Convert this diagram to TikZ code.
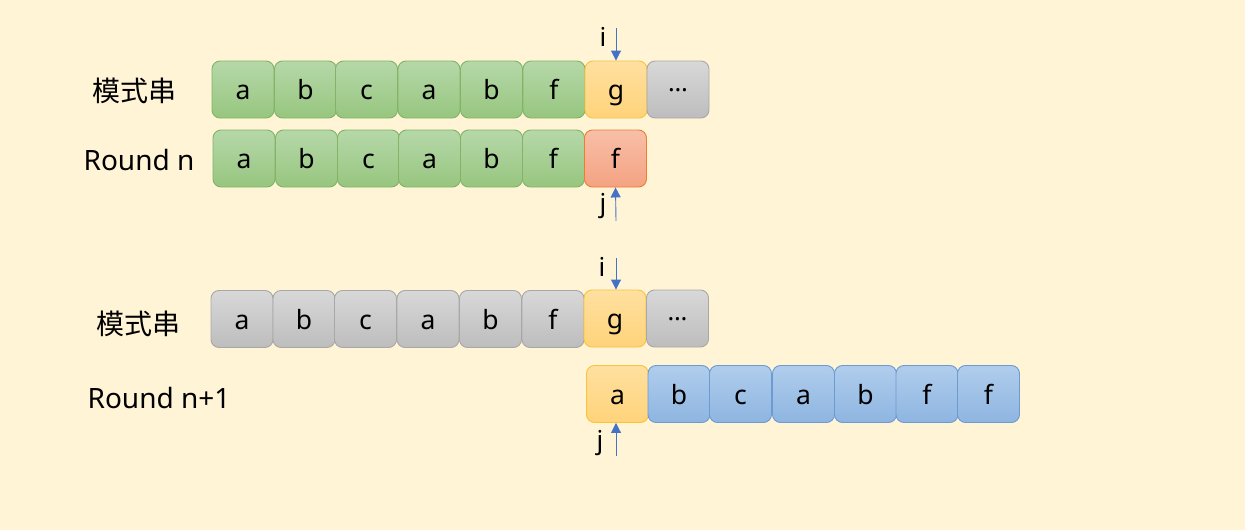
\documentclass[tikz,border=0pt]{standalone}
\usepackage{fontspec}
\setmainfont{Noto Sans}
\newfontfamily\cjk{Noto Sans CJK SC}
\usetikzlibrary{arrows.meta,shadings}
\definecolor{bg}{HTML}{FFF4D6}
\definecolor{arrowblue}{HTML}{4472C4}
\definecolor{gD}{HTML}{82B366}\definecolor{gT}{HTML}{B6D8A9}\definecolor{gB}{HTML}{97C67F}
\definecolor{yD}{HTML}{F9C33A}\definecolor{yT}{HTML}{FFE0A0}\definecolor{yB}{HTML}{FFD37A}
\definecolor{kD}{HTML}{A8A8A8}\definecolor{kT}{HTML}{D8D8D8}\definecolor{kB}{HTML}{BDBDBD}
\definecolor{rD}{HTML}{ED7D31}\definecolor{rT}{HTML}{F8BFA8}\definecolor{rB}{HTML}{F4A282}
\definecolor{bD}{HTML}{6C9BD2}\definecolor{bT}{HTML}{B0CDEC}\definecolor{bB}{HTML}{8EB5E1}
\newcommand{\mydots}{\raisebox{8pt}{\fontsize{25}{25}\selectfont …}}
\tikzset{
  cell/.style={rounded corners=8pt, minimum width=62pt, minimum height=57pt, inner sep=0pt, line width=0.9pt, text height=24pt, text depth=4pt, font=\fontsize{26.5}{26.5}\selectfont},
  gcell/.style={cell, draw=gD, top color=gT, bottom color=gB},
  ycell/.style={cell, draw=yD, top color=yT, bottom color=yB},
  kcell/.style={cell, draw=kD, top color=kT, bottom color=kB},
  rcell/.style={cell, draw=rD, top color=rT, bottom color=rB},
  bcell/.style={cell, draw=bD, top color=bT, bottom color=bB},
  lab/.style={font=\fontsize{28}{28}\selectfont, inner sep=0pt},
  clab/.style={font=\cjk\fontsize{28}{28}\selectfont, inner sep=0pt},
  ptr/.style={draw=arrowblue, line width=0.9pt, -{Triangle[width=10pt,length=10pt,fill=arrowblue]}},
  ptrlab/.style={font=\fontsize{26}{26}\selectfont, inner sep=0pt}
}
\begin{document}
\begin{tikzpicture}[x=1pt,y=-1pt]
\fill[bg] (0,0) rectangle (1245,530);
\useasboundingbox (0,0) rectangle (1245,530);
% labels
\node[clab] (L1) at (134,91) {模式串};
\node[lab] (L2) at (139,160) {Round n};
\node[clab] (L3) at (138,324) {模式串};
\node[lab] (L4) at (159,398) {Round n+1};
% row 1
\node[gcell] (a1) at (243,89.5) {a};
\node[gcell] (a2) at (305.5,89.5) {b};
\node[gcell] (a3) at (366.5,89.5) {c};
\node[gcell] (a4) at (429,89.5) {a};
\node[gcell] (a5) at (491.5,89.5) {b};
\node[gcell] (a6) at (554,89.5) {f};
\node[ycell] (a7) at (616,89.5) {g};
\node[kcell] (a8) at (678,89.5) {\mydots};
% row 2
\node[gcell] (b1) at (244,158.5) {a};
\node[gcell] (b2) at (306.5,158.5) {b};
\node[gcell] (b3) at (368.5,158.5) {c};
\node[gcell] (b4) at (429.5,158.5) {a};
\node[gcell] (b5) at (491.5,158.5) {b};
\node[gcell] (b6) at (553.5,158.5) {f};
\node[rcell] (b7) at (615.5,158.5) {f};
% row 3
\node[kcell] (c1) at (242,319) {a};
\node[kcell] (c2) at (304,319) {b};
\node[kcell] (c3) at (365.5,319) {c};
\node[kcell] (c4) at (428,319) {a};
\node[kcell] (c5) at (490.5,319) {b};
\node[kcell] (c6) at (553,319) {f};
\node[ycell] (c7) at (615,318.5) {g};
\node[kcell] (c8) at (677.5,318.5) {\mydots};
% row 4
\node[ycell] (d1) at (617.5,394) {a};
\node[bcell] (d2) at (679,394) {b};
\node[bcell] (d3) at (740.5,394) {c};
\node[bcell] (d4) at (803.5,394) {a};
\node[bcell] (d5) at (865.5,394) {b};
\node[bcell] (d6) at (927,394) {f};
\node[bcell] (d7) at (988.5,394) {f};
% pointers
\coordinate (p1) at (616,28);
\coordinate (p2) at (616,221);
\coordinate (p3) at (616,258);
\coordinate (p4) at (616,456);
\draw[ptr] (p1) -- (a7.north);
\draw[ptr] (p2) -- (b7.south);
\draw[ptr] (p3) -- (c7.north -| p3);
\draw[ptr] (p4) -- (d1.south -| p4);
\node[ptrlab] (i1) at (603,37) {i};
\node[ptrlab] (j1) at (603,206) {j};
\node[ptrlab] (i2) at (602,267) {i};
\node[ptrlab] (j2) at (600,443) {j};
\end{tikzpicture}
\end{document}
